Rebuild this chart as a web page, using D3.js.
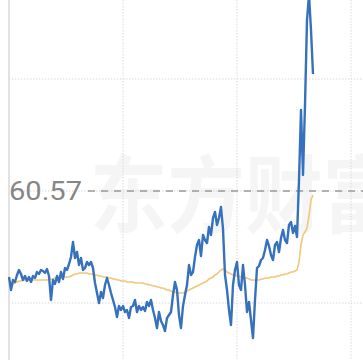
<!DOCTYPE html>
<meta charset="utf-8">
<style>
body { margin: 0; background: #fff; }
svg { display: block; }
.grid line { stroke: #d9d9d9; stroke-width: 1; stroke-dasharray: 1.5,1.5; }
</style>
<svg width="363" height="360"></svg>
<script src="https://cdn.jsdelivr.net/npm/d3@7"></script>
<script>

// daily close
var closes = [
  51.97, 50.67, 51.67, 51.47, 52.17, 52.67, 52.27, 51.67, 52.07, 51.57,
  51.97, 51.47, 52.07, 51.87, 52.47, 52.27, 52.67, 52.57, 52.37, 52.77,
  52.07, 49.67, 51.67, 51.27, 52.07, 51.47, 52.47, 51.77, 52.87, 52.67,
  53.27, 53.97, 55.47, 53.87, 54.47, 53.17, 53.87, 52.67, 52.87, 53.47,
  53.17, 53.47, 52.87, 51.37, 50.37, 49.37, 50.47, 49.87, 51.17, 51.87,
  51.17, 50.37, 49.67, 48.97, 47.97, 49.07, 48.67, 49.07, 48.47, 48.67,
  47.87, 48.97, 49.07, 49.67, 48.47, 49.07, 48.67, 48.97, 48.57, 49.47,
  49.07, 49.67, 48.67, 47.87, 46.87, 48.47, 47.57, 47.17, 46.57, 47.87,
  48.17, 48.47, 50.17, 51.47, 50.67, 48.17, 46.87, 49.07, 50.17, 51.17,
  53.17, 52.17, 52.47, 53.97, 55.17, 55.67, 54.07, 56.17, 55.67, 55.37,
  56.97, 56.17, 57.87, 58.47, 57.17, 57.87, 58.97, 56.77, 52.17, 50.67,
  48.67, 47.17, 51.17, 52.67, 53.47, 51.17, 50.67, 53.17, 51.17, 48.47,
  49.47, 47.67, 45.87, 49.67, 52.87, 53.07, 53.67, 53.87, 54.67, 55.67,
  55.07, 54.17, 53.67, 55.17, 55.47, 54.47, 55.87, 56.67, 55.67, 55.37,
  57.17, 57.47, 56.37, 57.07, 55.97, 61.67, 68.67, 62.17, 69.17, 77.67,
  80.17, 76.67, 72.27
];

// moving average
var ma = [
  null, 51.07, 51.27, 51.37, 51.47, 51.57, 51.57,
  51.67, 51.67, 51.67, 51.67, 51.67, 51.67, 51.67, 51.67, 51.67, 51.67, 51.67, 51.67, 51.67,
  51.77, 51.77, 51.77,
  51.87, 51.87, 51.87, 51.87,
  51.97, 51.97, 51.97, 51.97,
  52.07, 52.17, 52.27, 52.27,
  52.37, 52.37, 52.37, 52.37, 52.37,
  52.27, 52.27, 52.27,
  52.17, 52.17,
  52.07, 52.07,
  51.97, 51.97, 51.97,
  51.87, 51.87,
  51.77, 51.77,
  51.67, 51.67,
  51.57, 51.57, 51.57,
  51.47, 51.47, 51.47, 51.47,
  51.37, 51.37, 51.37, 51.37, 51.37,
  51.27, 51.27, 51.17, 51.17, 51.07, 51.07, 50.97, 50.97, 50.87, 50.87,
  50.77, 50.67, 50.67, 50.57, 50.47, 50.47, 50.37, 50.37, 50.37, 50.37,
  50.47, 50.57, 50.67, 50.77, 50.87, 50.97, 51.07, 51.17, 51.27, 51.37, 51.47, 51.57,
  51.77, 51.87, 51.97, 52.17, 52.27, 52.47, 52.67, 52.77,
  52.67, 52.47, 52.37, 52.27,
  52.17, 52.17, 52.07, 52.07, 51.97, 51.97, 51.87, 51.87, 51.77,
  51.67, 51.67, 51.67, 51.67, 51.67,
  51.77, 51.77,
  51.87, 51.87, 51.87,
  51.97, 51.97, 51.97,
  52.07, 52.07, 52.17, 52.17, 52.27, 52.27, 52.37, 52.47, 52.47, 52.57, 52.67,
  53.47, 55.17, 56.17, 56.47, 56.87, 58.07, 59.67, 60.17
];

var refPrice = 60.57;
var gridValues = [71.77, 60.57, 49.37];
var gridIndex = [57, 114, 171];
var watermark = "东方财富";

var width = 363,
    height = 360;

var svg = d3.select("svg");

var x = d3.scaleLinear().domain([0, 152]).range([9, 313]);
var y = d3.scaleLinear().domain([43.67, 79.67]).range([height, 0]);

// watermark (runs off the right edge, as in the app)
svg.append("text")
    .attr("x", 90)
    .attr("y", 226)
    .attr("textLength", 310)
    .attr("lengthAdjust", "spacingAndGlyphs")
    .style("font-family", "'Noto Sans CJK SC', sans-serif")
    .style("font-size", "84px")
    .style("font-weight", "bold")
    .style("fill", "#f5f5f5")
    .text(watermark);

// grid
var grid = svg.append("g").attr("class", "grid");
grid.selectAll(".h")
    .data(gridValues)
    .enter().append("line")
      .attr("class", "h")
      .attr("x1", x(0)).attr("x2", width)
      .attr("y1", function(d) { return y(d); })
      .attr("y2", function(d) { return y(d); });
grid.selectAll(".v")
    .data(gridIndex)
    .enter().append("line")
      .attr("class", "v")
      .attr("x1", function(d) { return x(d); })
      .attr("x2", function(d) { return x(d); })
      .attr("y1", 0).attr("y2", height);

// left edge
svg.append("line")
    .attr("x1", x(0)).attr("x2", x(0))
    .attr("y1", 0).attr("y2", height)
    .attr("stroke", "#e2e2e2")
    .attr("stroke-width", 2);

// reference line + label
svg.append("line")
    .attr("x1", 88).attr("x2", width)
    .attr("y1", y(refPrice)).attr("y2", y(refPrice))
    .attr("stroke", "#9a9a9a")
    .attr("stroke-width", 1.5)
    .attr("stroke-dasharray", "7,6");

svg.append("text")
    .attr("x", 9)
    .attr("y", y(refPrice))
    .attr("dy", "0.36em")
    .attr("textLength", 73)
    .attr("lengthAdjust", "spacingAndGlyphs")
    .style("font-family", "Roboto, sans-serif")
    .style("font-size", "26px")
    .style("fill", "#868686")
    .text(refPrice.toFixed(2));

var line = d3.line()
    .defined(function(d) { return d != null; })
    .x(function(d, i) { return x(i); })
    .y(function(d) { return y(d); });

svg.append("path")
    .datum(ma)
    .attr("fill", "none")
    .attr("stroke", "#f4c57a")
    .attr("stroke-width", 1.6)
    .attr("d", line);

svg.append("path")
    .datum(closes)
    .attr("fill", "none")
    .attr("stroke", "#3671bd")
    .attr("stroke-width", 2.4)
    .attr("stroke-linejoin", "round")
    .attr("d", line);

</script>
